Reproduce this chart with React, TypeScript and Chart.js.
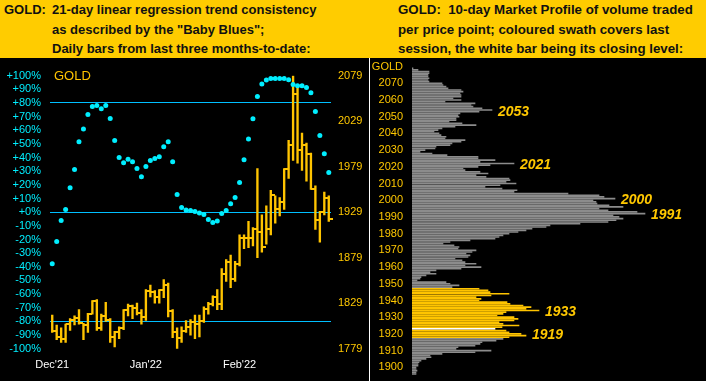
import React, { useEffect, useRef } from 'react';
import { Chart, registerables } from 'chart.js';
Chart.register(...registerables);

const FONT = "'Liberation Sans', Arial, sans-serif";
const HEADER_BG = '#FFCC00';
const BAR_GOLD = '#FFC400';
const LABEL_GOLD = '#FFC800';
const CYAN = '#00EEFF';
const LINE_BLUE = '#00BFFF';
const PROFILE_GRAY = '#8c8c8c';

// ---------- Left panel: daily bars + "Baby Blues" ----------
const monthTicks: [number, string][] = [[0, "Dec'21"], [21, "Jan'22"], [42, "Feb'22"]];
const highs = [1816, 1805, 1802, 1806, 1812, 1815, 1822, 1807, 1818, 1832, 1833, 1817, 1830, 1812, 1798, 1803, 1822, 1828, 1827, 1829, 1822, 1844, 1849, 1843, 1844, 1855, 1851, 1822, 1802, 1803, 1810, 1811, 1816, 1816, 1825, 1830, 1837, 1844, 1867, 1877, 1882, 1875, 1904, 1904, 1919, 1912, 1977, 1926, 1936, 1953, 1947, 1945, 1977, 2008, 2079, 2069, 2016, 2005, 1994, 1958, 1930, 1951, 1947];
const lows = [1797, 1789, 1786, 1786, 1799, 1805, 1806, 1789, 1797, 1817, 1799, 1799, 1809, 1786, 1781, 1790, 1800, 1815, 1812, 1816, 1806, 1810, 1836, 1829, 1829, 1835, 1814, 1791, 1779, 1786, 1797, 1794, 1790, 1792, 1808, 1817, 1826, 1822, 1822, 1853, 1846, 1853, 1870, 1889, 1890, 1892, 1879, 1885, 1894, 1904, 1917, 1925, 1932, 1966, 1986, 1983, 1975, 1963, 1954, 1910, 1896, 1926, 1919];
const closes = [1799, 1792, 1790, 1806, 1811, 1813, 1807, 1805, 1817, 1831, 1802, 1815, 1811, 1792, 1797, 1802, 1822, 1826, 1824, 1818, 1814, 1842, 1841, 1836, 1844, 1849, 1820, 1797, 1791, 1799, 1803, 1808, 1806, 1809, 1823, 1828, 1836, 1828, 1861, 1874, 1856, 1872, 1901, 1901, 1901, 1911, 1907, 1891, 1911, 1948, 1932, 1940, 1976, 2003, 2059, 1997, 2003, 1993, 1954, 1920, 1929, 1945, 1922];
const babyBlues = [-37.7, -21.5, -6.1, 1.9, 18, 31.2, 51.7, 61, 71.5, 77.4, 78.1, 75.7, 78.1, 68.6, 52.5, 40, 36.3, 38.8, 37, 32, 26, 33.4, 37.8, 39.3, 40.7, 48, 51.7, 37, 12.9, 3.4, 1.7, 1.2, 0.5, -0.5, -1.7, -5.4, -7.6, -6.4, -1, 1.2, 6.1, 10.7, 21.7, 38.5, 53.7, 68.4, 84.7, 94, 96.9, 97.9, 97.9, 97.9, 97.9, 97.1, 93.5, 92.7, 92.7, 91.3, 87.6, 73.7, 56.1, 42.9, 29];
const priceTicks = [1779, 1829, 1879, 1929, 1979, 2029, 2079];
const pctMin = -100;
const pctMax = 100;
const priceMin = 1779;
const priceMax = 2079;
const consistencyLines = [80, 0, -80];

// ---------- Right panel: 10-day market profile ----------
const profileTop = 2079; // price of first volume entry, one entry per $1 going down
const profileVolume = [
  1, 6, 17, 17, 16, 16, 17, 16, 17, 30, 31, 34, 36, 49, 51, 48, 49, 49, 41, 49,
  33, 63, 59, 61, 70, 80, 67, 48, 46, 47, 44, 44, 37, 50, 64, 43, 30, 26, 22, 27,
  29, 34, 33, 53, 49, 40, 38, 24, 23, 13, 8, 20, 35, 66, 66, 83, 68, 102, 78, 66,
  51, 53, 68, 76, 64, 74, 97, 98, 94, 104, 88, 73, 90, 105, 102, 156, 187, 192, 203, 181,
  184, 185, 197, 211, 187, 196, 225, 233, 201, 207, 211, 204, 196, 168, 138, 134, 120, 114, 106, 97,
  91, 87, 83, 58, 38, 31, 42, 47, 46, 64, 60, 54, 58, 56, 43, 50, 53, 64, 53, 69,
  49, 24, 18, 24, 14, 9, 8, 5, 34, 38, 47, 40, 67, 76, 78, 97, 79, 64, 69, 67,
  95, 98, 111, 119, 114, 127, 94, 91, 85, 102, 106, 102, 87, 91, 107, 90, 83, 94, 97, 109,
  114, 97, 91, 84, 70, 68, 63, 46, 44, 79, 63, 30, 18, 19, 14, 9, 7, 6, 6, 4,
  4, 5, 4, 4,
];
const swathHigh = 1947;
const swathLow = 1918;
const closeLevel = 1923;
const profileMin = 1895;
const profileMax = 2080;
const profileTicks = [1900, 1910, 1920, 1930, 1940, 1950, 1960, 1970, 1980, 1990, 2000, 2010, 2020, 2030, 2040, 2050, 2060, 2070, 2080];
const profileNotes = [2053, 2021, 2000, 1991, 1933, 1919];

function tradingDays(count: number): string[] {
  const out: string[] = [];
  const d = new Date(Date.UTC(2021, 11, 1));
  while (out.length < count) {
    const wd = d.getUTCDay();
    if (wd !== 0 && wd !== 6) out.push(d.toISOString().slice(0, 10));
    d.setUTCDate(d.getUTCDate() + 1);
  }
  return out;
}

export default function App() {
  const leftRef = useRef<HTMLCanvasElement>(null);
  const rightRef = useRef<HTMLCanvasElement>(null);

  useEffect(() => {
    document.body.style.margin = '0';
    const days = tradingDays(highs.length);
    const monthMap = new Map(monthTicks);

    const tickImg = document.createElement('canvas');
    tickImg.width = 8;
    tickImg.height = 2;
    const tctx = tickImg.getContext('2d')!;
    tctx.fillStyle = BAR_GOLD;
    tctx.fillRect(4, 0, 4, 2);

    const goldTitle = {
      id: 'goldTitle',
      afterDraw(chart: any) {
        const { ctx, chartArea } = chart;
        ctx.save();
        ctx.font = `13px ${FONT}`;
        ctx.fillStyle = BAR_GOLD;
        ctx.textBaseline = 'middle';
        ctx.fillText('GOLD', chartArea.left + 4, chartArea.top + 1);
        ctx.restore();
      },
    };

    const left = new Chart(leftRef.current!, {
      type: 'bar',
      data: {
        labels: days,
        datasets: [
          {
            type: 'line',
            data: babyBlues,
            yAxisID: 'yPct',
            showLine: false,
            pointRadius: 2.5,
            pointBackgroundColor: CYAN,
            pointBorderWidth: 0,
            order: 0,
          } as any,
          {
            type: 'bar',
            data: lows.map((l, i) => [l, highs[i]]),
            yAxisID: 'yPrice',
            backgroundColor: BAR_GOLD,
            barThickness: 1.7,
            borderWidth: 0,
            order: 2,
          } as any,
          {
            type: 'line',
            data: closes,
            yAxisID: 'yPrice',
            showLine: false,
            pointStyle: tickImg,
            pointRadius: 2,
            order: 1,
          } as any,
        ],
      },
      options: {
        animation: false,
        responsive: false,
        maintainAspectRatio: false,
        layout: { padding: { top: 17.7, left: 0, right: 0, bottom: 0 } },
        plugins: { legend: { display: false }, tooltip: { enabled: false } },
        scales: {
          x: {
            type: 'category',
            offset: true,
            grid: { display: false, drawTicks: false },
            border: { display: false },
            ticks: {
              autoSkip: false,
              maxRotation: 0,
              minRotation: 0,
              color: '#ffffff',
              padding: 10,
              font: { family: FONT, size: 11 },
              callback: (_v: any, i: number) => monthMap.get(i) ?? '',
            },
            afterFit: (s: any) => { s.height = 32.3; },
          },
          yPct: {
            position: 'left',
            min: pctMin,
            max: pctMax,
            ticks: {
              stepSize: 10,
              autoSkip: false,
              color: CYAN,
              padding: 9,
              font: { family: FONT, size: 11 },
              callback: (v: any) => (v >= 0 ? '+' : '') + v + '%',
            },
            grid: {
              drawTicks: false,
              lineWidth: 1,
              color: (c: any) => (consistencyLines.includes(c.tick?.value) ? LINE_BLUE : 'rgba(0,0,0,0)'),
            },
            border: { display: false },
            afterFit: (s: any) => { s.width = 50; s.paddingTop = 0; s.paddingBottom = 0; },
          },
          yPrice: {
            position: 'right',
            min: priceMin,
            max: priceMax,
            afterBuildTicks: (s: any) => { s.ticks = priceTicks.map((v) => ({ value: v })); },
            ticks: {
              autoSkip: false,
              color: LABEL_GOLD,
              padding: 7,
              font: { family: FONT, size: 11 },
              callback: (v: any) => String(v),
            },
            grid: { display: false, drawTicks: false },
            border: { display: false },
            afterFit: (s: any) => { s.width = 38; s.paddingTop = 0; s.paddingBottom = 0; },
          },
        },
      } as any,
      plugins: [goldTitle],
    });

    const noteLabels = {
      id: 'noteLabels',
      afterDatasetsDraw(chart: any) {
        const { ctx } = chart;
        const xs = chart.scales.x;
        const ys = chart.scales.y;
        ctx.save();
        ctx.font = `italic bold 14px ${FONT}`;
        ctx.fillStyle = LABEL_GOLD;
        ctx.textBaseline = 'middle';
        profileNotes.forEach((p) => {
          let m = 0;
          profileVolume.forEach((v, i) => {
            const lvl = profileTop - i;
            if (Math.abs(lvl - p) <= 2 && v > m) m = v;
          });
          ctx.fillText(String(p), xs.getPixelForValue(m) + 6, ys.getPixelForValue(p));
        });
        ctx.restore();
      },
    };

    const right = new Chart(rightRef.current!, {
      type: 'bar',
      data: {
        datasets: [
          {
            data: profileVolume.map((v, i) => ({ x: v, y: profileTop - i })),
            backgroundColor: profileVolume.map((_, i) => {
              const lvl = profileTop - i;
              if (lvl === closeLevel) return '#ffffff';
              if (lvl >= swathLow && lvl <= swathHigh) return BAR_GOLD;
              return PROFILE_GRAY;
            }),
            barThickness: 1,
            borderWidth: 0,
          } as any,
        ],
      },
      options: {
        indexAxis: 'y',
        animation: false,
        responsive: false,
        maintainAspectRatio: false,
        layout: { padding: { top: 8.6, bottom: 5.35, left: 0, right: 0 } },
        plugins: { legend: { display: false }, tooltip: { enabled: false } },
        scales: {
          x: { type: 'linear', min: 0, max: 294, display: false, offset: false },
          y: {
            type: 'linear',
            offset: false,
            min: profileMin,
            max: profileMax,
            afterBuildTicks: (s: any) => { s.ticks = profileTicks.map((v) => ({ value: v })); },
            ticks: {
              autoSkip: false,
              color: LABEL_GOLD,
              padding: 9,
              font: { family: FONT, size: 11 },
              callback: (v: any) => (v === profileMax ? 'GOLD' : String(v)),
            },
            grid: { display: false, drawTicks: false, offset: false },
            border: { display: false },
            afterFit: (s: any) => { s.width = 42; s.paddingTop = 0; s.paddingBottom = 0; },
          },
        },
      } as any,
      plugins: [noteLabels],
    });

    return () => {
      left.destroy();
      right.destroy();
    };
  }, []);

  const headerText: React.CSSProperties = {
    position: 'absolute',
    font: `bold 13px ${FONT}`,
    lineHeight: '19.5px',
    color: '#111',
    whiteSpace: 'pre',
  };

  return (
    <div style={{ position: 'fixed', left: 0, top: 0, width: 706, height: 381, background: '#000', overflow: 'hidden' }}>
      <div style={{ position: 'absolute', left: 0, top: 0, width: 706, height: 58, background: HEADER_BG }} />
      <div style={{ ...headerText, left: 4, top: 0 }}>GOLD:</div>
      <div style={{ ...headerText, left: 52, top: 0 }}>
        {'21-day linear regression trend consistency\nas described by the "Baby Blues";\nDaily bars from last three months-to-date:'}
      </div>
      <div style={{ ...headerText, left: 398, top: 0, fontSize: '13.3px' }}>
        {'GOLD:  10-day Market Profile of volume traded\nper price point; coloured swath covers last\nsession, the white bar being its closing level:'}
      </div>
      <canvas ref={leftRef} width={369} height={323} style={{ position: 'absolute', left: 0, top: 58, display: 'block' }} />
      <div style={{ position: 'absolute', left: 369, top: 58, width: 1, height: 323, background: '#ffffff' }} />
      <canvas ref={rightRef} width={336} height={323} style={{ position: 'absolute', left: 370, top: 58, display: 'block' }} />
    </div>
  );
}
